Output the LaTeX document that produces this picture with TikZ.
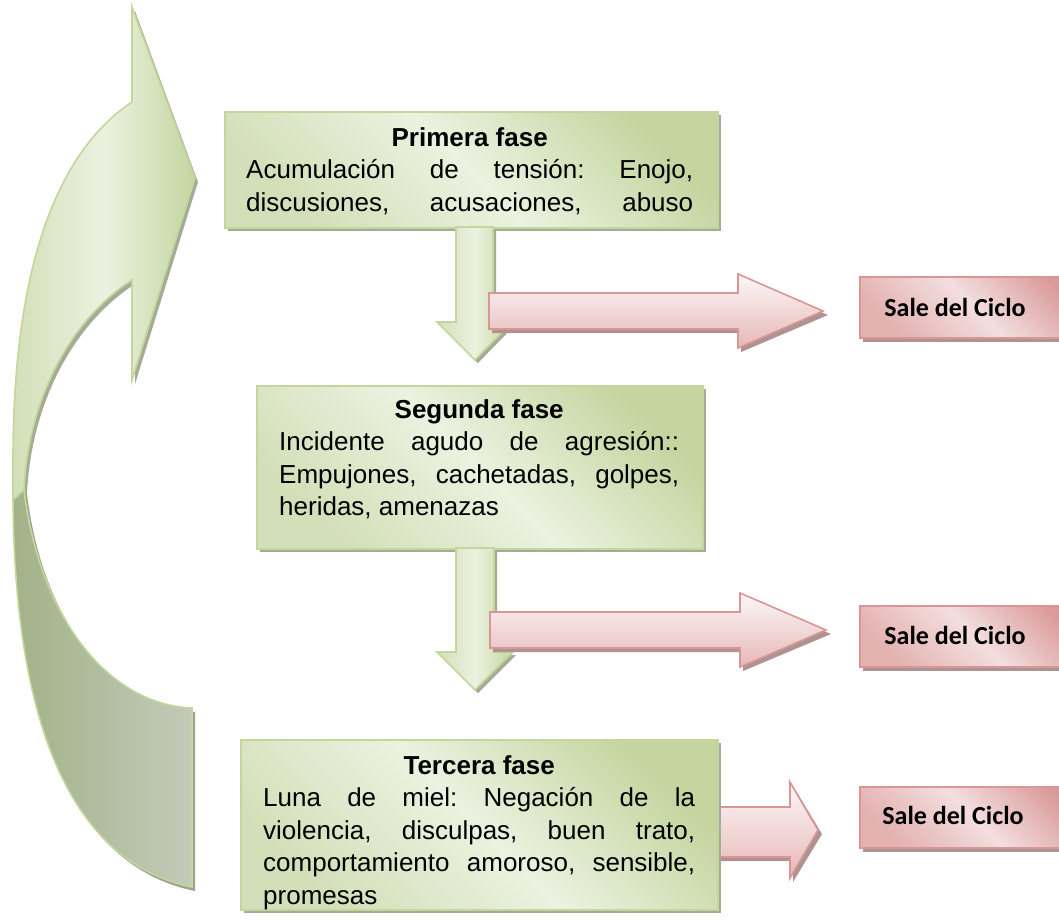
\documentclass[tikz,border=0pt]{standalone}
\usepackage{fontspec}
\setmainfont{Liberation Sans}
\newfontfamily\carlito{Carlito}
\usetikzlibrary{shadows}
\definecolor{gL}{HTML}{EBF2E0}
\definecolor{gD}{HTML}{C4D59F}
\definecolor{gM}{HTML}{D3DFB8}
\definecolor{gLine}{HTML}{C3D69B}
\definecolor{gShadow}{HTML}{A4AC95}
\definecolor{bL}{HTML}{A2B288}
\definecolor{bR}{HTML}{C3CAB9}
\definecolor{bShadow}{HTML}{9CA48E}
\definecolor{pTop}{HTML}{FDF7F7}
\definecolor{pBot}{HTML}{E5B8B7}
\definecolor{pLine}{HTML}{D99694}
\definecolor{pShadow}{HTML}{AD9392}
\definecolor{sD}{HTML}{DA9A99}
\definecolor{sL}{HTML}{F3DEDE}
\definecolor{sM}{HTML}{E3B2B1}
\newcommand\ctitle[1]{\noindent\makebox[\linewidth][c]{\bfseries #1}\par}
\newcommand\jl[1]{\noindent\makebox[\linewidth][s]{#1}\par}
\newcommand\lastl[1]{\noindent\makebox[\linewidth][l]{#1}\par}
\tikzset{
  x=1pt, y=-1pt,
  gbox/.style={draw=gLine, line width=1.6pt, top color=gD, bottom color=gM, middle color=gL, shading angle=-45,
    drop shadow={shadow xshift=3pt, shadow yshift=-3pt, fill=gShadow, draw=none, opacity=1},
    anchor=north west, inner sep=0pt},
  sbox/.style={draw=pLine, line width=1.6pt, top color=sD, bottom color=sM, middle color=sL, shading angle=-45,
    drop shadow={shadow xshift=3pt, shadow yshift=-4pt, fill=pShadow, draw=none, opacity=1},
    anchor=north west, inner sep=0pt, minimum width=230pt, minimum height=61pt},
  txt/.style={anchor=base west, inner sep=0pt, font=\fontsize{26pt}{32.5pt}\selectfont\frenchspacing},
  stxt/.style={inner sep=0pt, font=\carlito\bfseries\fontsize{26pt}{30pt}\selectfont},
  garrow/.style={draw=gLine, line width=1.6pt, left color=gM, right color=gD, middle color=gL},
  parrow/.style={draw=pLine, line width=1.6pt, top color=pTop, bottom color=pBot},
  gshad/.style={fill=gShadow},
  pshad/.style={fill=pShadow},
}
\begin{document}
\begin{tikzpicture}
\useasboundingbox (0,0) rectangle (1059,922);
\clip (0,0) rectangle (1059,922);
\fill[white] (0,0) rectangle (1059,922);

% ---------- big curved arrow ----------
\begin{scope}[shift={(3,4)}]
\fill[bShadow] (24,490) .. controls (40,620) and (110,705) .. (192,708) -- (192,887) .. controls (60,860) and (13,700) .. (13,490) -- cycle;
\fill[gShadow] (132,102) -- (132,7) -- (195,178) -- (132,380) -- (132,280) .. controls (70,320) and (28,400) .. (24,490) -- (13,500) -- (13,460) .. controls (13,260) and (60,150) .. (132,102) -- cycle;
\end{scope}
\path[draw=gLine, line width=1.6pt, left color=bL, right color=bR]
  (24,490) .. controls (40,620) and (110,705) .. (192,708) -- (192,887) .. controls (60,860) and (13,700) .. (13,490) -- cycle;
\path[draw=gLine, line width=1.6pt, left color=gM, right color=gD, middle color=gL]
  (132,102) -- (132,7) -- (195,178) -- (132,380) -- (132,280) .. controls (70,320) and (28,400) .. (24,490) -- (13,500) -- (13,460) .. controls (13,260) and (60,150) .. (132,102) -- cycle;

% ---------- first phase ----------
\node[gbox, minimum width=493pt, minimum height=116pt] (b1) at (224,111) {};
\node[txt] (t1) at (246,146) {\parbox[t]{447pt}{\parskip=0pt
  \ctitle{Primera fase}
  \jl{Acumulación de tensión: Enojo,}
  \jl{discusiones, acusaciones, abuso}}};

\fill[gshad] (496,230) -- (496,325) -- (515,325) -- (478,363) -- (440,325) -- (459,325) -- (459,230) -- cycle;
\path[garrow] (456,227) -- (456,322) -- (437,322) -- (475,360) -- (512,322) -- (493,322) -- (493,227) -- cycle;

\fill[pshad] (492,297) -- (741,297) -- (741,278) -- (828,315) -- (741,352) -- (741,333) -- (492,333) -- cycle;
\path[parrow] (489,293) -- (738,293) -- (738,274) -- (823,311) -- (738,348) -- (738,329) -- (489,329) -- cycle;

\node[sbox] (s1) at (859,276) {};
\node[stxt] (s1t) at (955,307) {Sale del Ciclo};

% ---------- second phase ----------
\node[gbox, minimum width=446pt, minimum height=163pt] (b2) at (256,385) {};
\node[txt] (t2) at (279,418) {\parbox[t]{400pt}{\parskip=0pt
  \ctitle{Segunda fase}
  \jl{Incidente agudo de agresión::}
  \jl{Empujones, cachetadas, golpes,}
  \lastl{heridas, amenazas}}};

\fill[gshad] (497,551) -- (497,655) -- (516,655) -- (478,693) -- (440,655) -- (459,655) -- (459,551) -- cycle;
\path[garrow] (456,548) -- (456,652) -- (437,652) -- (475,690) -- (513,652) -- (494,652) -- (494,548) -- cycle;

\fill[pshad] (493,616) -- (743,616) -- (743,597) -- (831,634) -- (743,671) -- (743,652) -- (493,652) -- cycle;
\path[parrow] (490,612) -- (740,612) -- (740,593) -- (826,630) -- (740,667) -- (740,648) -- (490,648) -- cycle;

\node[sbox] (s2) at (859,605) {};
\node[stxt] (s2t) at (955,635) {Sale del Ciclo};

% ---------- third phase ----------
\fill[pshad] (715,811) -- (793,811) -- (793,786) -- (822,834) -- (793,882) -- (793,861) -- (715,861) -- cycle;
\path[parrow] (712,807) -- (790,807) -- (790,782) -- (818,830) -- (790,878) -- (790,857) -- (712,857) -- cycle;

\node[gbox, minimum width=477pt, minimum height=170pt] (b3) at (240,739) {};
\node[txt] (t3) at (263,774) {\parbox[t]{432pt}{\parskip=0pt
  \ctitle{Tercera fase}
  \jl{Luna de miel: Negación de la}
  \jl{violencia, disculpas, buen trato,}
  \jl{comportamiento amoroso, sensible,}
  \lastl{promesas}}};

\node[sbox] (s3) at (859,786) {};
\node[stxt] (s3t) at (953,815) {Sale del Ciclo};
\end{tikzpicture}
\end{document}
